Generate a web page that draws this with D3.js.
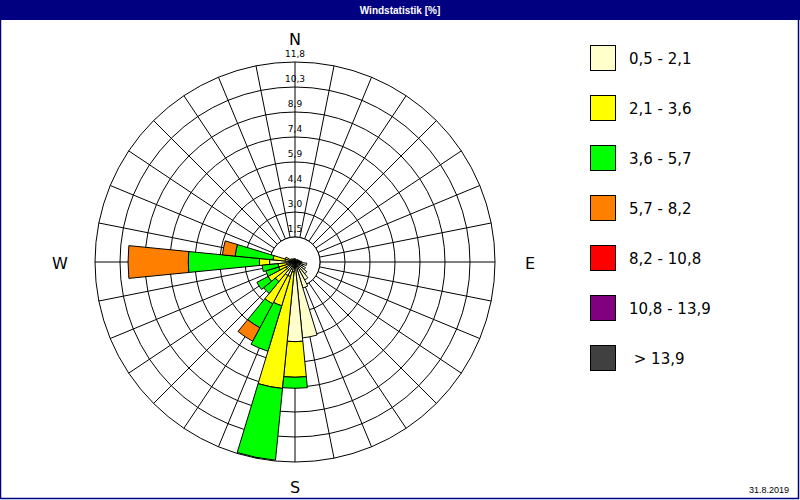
<html>
<head>
<meta charset="utf-8">
<title>Windstatistik</title>
<style>
  body { margin: 0; background: #fff; }
  svg { display: block; }
  text { font-family: "DejaVu Sans", sans-serif; }
</style>
</head>
<body>
<div id="rose"></div>
<script src="https://d3js.org/d3.v7.min.js"></script>
<script>
  const width = 800;
  const height = 500;

  // 32 sectors, 11.25 deg each, starting at N and going clockwise
  const sectorCount = 32;

  // speed classes (m/s), legend labels and colours
  const classKeys = ['c1', 'c2', 'c3', 'c4', 'c5', 'c6', 'c7'];
  const classLabels = ['0,5 - 2,1', '2,1 - 3,6', '3,6 - 5,7', '5,7 - 8,2', '8,2 - 10,8', '10,8 - 13,9', ' > 13,9'];
  const classColors = ['#ffffcc', '#ffff00', '#00ff00', '#ff8000', '#ff0000', '#800080', '#404040'];

  // frequency in % per sector for every speed class
  const c1 = [0.2, 0.15, 0.15, 0.15, 0.2, 0.2, 0.25, 0.3, 0.4, 0.7, 0.5, 0.7, 0.9, 1.2, 1.6, 4.5,
              4.7, 0.6, 0.9, 0.9, 0.6, 0.6, 0.4, 0.5, 1.5, 0.6, 0.3, 0.3, 0.25, 0.2, 0.2, 0.2];
  const c2 = [0, 0, 0, 0, 0, 0, 0, 0, 0, 0, 0, 0, 0, 0, 0, 0,
              2.1, 6.9, 1.8, 1.9, 0.9, 1.2, 0.6, 0.5, 0.6, 0.7, 0.3, 0, 0, 0, 0, 0];
  const c3 = [0, 0, 0, 0, 0, 0, 0, 0, 0, 0, 0, 0, 0, 0, 0, 0,
              0.65, 4.25, 2.8, 1.6, 0.9, 0.75, 0.8, 0.95, 4.2, 2.25, 0, 0, 0, 0, 0, 0];
  const c4 = [0, 0, 0, 0, 0, 0, 0, 0, 0, 0, 0, 0, 0, 0, 0, 0,
              0, 0, 0, 0.9, 0, 0, 0, 0, 3.55, 0.75, 0, 0, 0, 0, 0, 0];
  const c5 = new Array(sectorCount).fill(0);
  const c6 = new Array(sectorCount).fill(0);
  const c7 = new Array(sectorCount).fill(0);

  // ring labels along the north axis
  const maxValue = 11.8;
  const ringLabels = ['1,5', '3,0', '4,4', '5,9', '7,4', '8,9', '10,3', '11,8'];
  const compass = [['N', 0], ['E', 90], ['S', 180], ['W', 270]];
  const dateLabel = '31.8.2019';

  const series = [c1, c2, c3, c4, c5, c6, c7];
  const table = d3.range(sectorCount).map(i => {
    const row = { sector: i };
    classKeys.forEach((k, j) => { row[k] = series[j][i]; });
    return row;
  });

  const cx = 295, cy = 262, outerR = 200;
  const r = d3.scaleLinear().domain([0, maxValue]).range([0, outerR]);
  const step = 2 * Math.PI / sectorCount;
  const ringValues = ringLabels.map((_, i) => maxValue * (i + 1) / ringLabels.length);
  const innerR = r(ringValues[0]);

  const svg = d3.select('#rose').append('svg')
    .attr('width', width)
    .attr('height', height);

  svg.append('rect').attr('width', width).attr('height', height).attr('fill', '#fff');

  // title bar
  svg.append('rect').attr('x', 0).attr('y', 0).attr('width', width).attr('height', 20).attr('fill', '#000080');
  svg.append('text')
    .attr('x', 400).attr('y', 14)
    .attr('text-anchor', 'middle')
    .attr('fill', '#fff')
    .attr('font-weight', 'bold')
    .style('font-family', '"Liberation Sans", Arial, sans-serif')
    .attr('font-size', 10)
    .text('Windstatistik [%]');

  // frame
  svg.append('rect')
    .attr('x', 0.5).attr('y', 0.5).attr('width', width - 2).attr('height', height - 2)
    .attr('fill', 'none').attr('stroke', '#000080').attr('stroke-width', 1.5);

  const g = svg.append('g').attr('transform', `translate(${cx},${cy})`);

  // rings
  g.selectAll('circle.ring')
    .data(ringValues)
    .join('circle')
    .attr('class', 'ring')
    .attr('r', d => r(d))
    .attr('fill', 'none')
    .attr('stroke', '#000')
    .attr('stroke-width', 1);

  // spokes
  g.selectAll('line.spoke')
    .data(d3.range(sectorCount))
    .join('line')
    .attr('class', 'spoke')
    .attr('x1', i => innerR * Math.sin(i * step))
    .attr('y1', i => -innerR * Math.cos(i * step))
    .attr('x2', i => outerR * Math.sin(i * step))
    .attr('y2', i => -outerR * Math.cos(i * step))
    .attr('stroke', '#000')
    .attr('stroke-width', 1);

  // white hole in the middle
  g.append('circle')
    .attr('r', innerR)
    .attr('fill', '#fff')
    .attr('stroke', '#000');

  // stacked bars
  const stacked = d3.stack().keys(classKeys)(table);
  const arc = d3.arc()
    .innerRadius(d => r(d[0]))
    .outerRadius(d => r(d[1]))
    .startAngle(d => d.data.sector * step - step / 2)
    .endAngle(d => d.data.sector * step + step / 2);

  g.selectAll('g.layer')
    .data(stacked)
    .join('g')
    .attr('class', 'layer')
    .attr('fill', (d, i) => classColors[i])
    .selectAll('path')
    .data(d => d.filter(s => s[1] - s[0] > 0))
    .join('path')
    .attr('d', arc)
    .attr('stroke', '#000')
    .attr('stroke-width', 1);

  // ring labels
  g.selectAll('text.ringlabel')
    .data(ringValues)
    .join('text')
    .attr('class', 'ringlabel')
    .attr('x', 0)
    .attr('y', d => -r(d) - 5)
    .attr('text-anchor', 'middle')
    .style('font-family', '"DejaVu Sans", sans-serif')
    .attr('font-size', 9)
    .text((d, i) => ringLabels[i]);

  // compass letters
  g.selectAll('text.compass')
    .data(compass)
    .join('text')
    .attr('class', 'compass')
    .attr('x', d => (outerR + 35) * Math.sin(d[1] * Math.PI / 180))
    .attr('y', d => -(outerR + 24) * Math.cos(d[1] * Math.PI / 180) + 7)
    .attr('text-anchor', 'middle')
    .attr('font-size', 16)
    .text(d => d[0]);

  // legend
  const legend = svg.append('g').attr('transform', 'translate(590,45)');
  const item = legend.selectAll('g')
    .data(classLabels)
    .join('g')
    .attr('transform', (d, i) => `translate(0,${i * 50})`);
  item.append('rect')
    .attr('x', 0.5).attr('y', 0.5)
    .attr('width', 25).attr('height', 25)
    .attr('fill', (d, i) => classColors[i])
    .attr('stroke', '#000');
  item.append('text')
    .attr('x', 39)
    .attr('y', 19)
    .attr('font-size', 15)
    .attr('xml:space', 'preserve')
    .style('white-space', 'pre')
    .text(d => d);

  svg.append('text')
    .attr('x', 789).attr('y', 493)
    .attr('text-anchor', 'end')
    .style('font-family', '"Liberation Sans", Arial, sans-serif')
    .attr('font-size', 9)
    .text(dateLabel);
</script>
</body>
</html>
